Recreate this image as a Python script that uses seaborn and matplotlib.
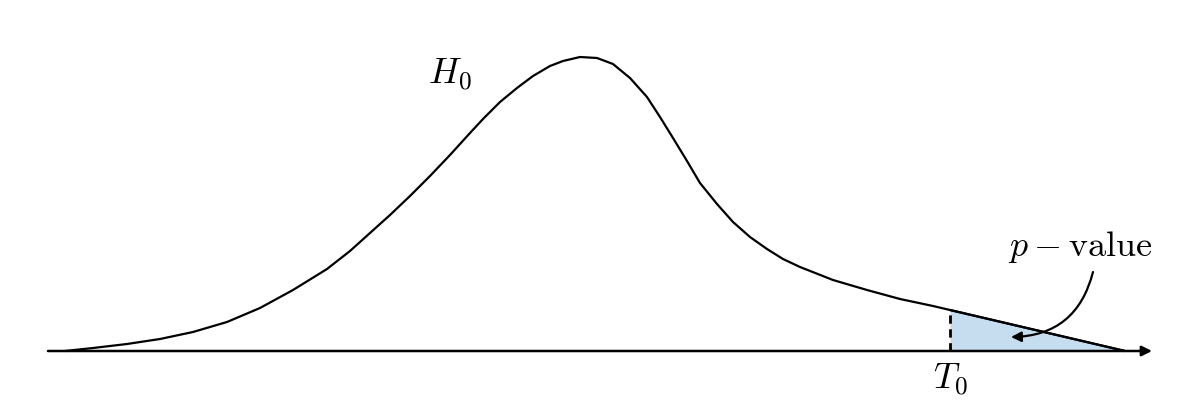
import numpy as np
import matplotlib
matplotlib.use("Agg")
import matplotlib.pyplot as plt
import seaborn as sns

# curve of the null distribution (x position, height above baseline)
curve_x = [65, 93, 127, 160, 193, 227, 260, 293, 327, 350, 370, 390, 410, 430, 450,
           460, 470, 483, 500, 517, 533, 550, 563, 580, 597, 613, 630, 647, 660, 673,
           687, 700, 717, 733, 750, 767, 783, 800, 833, 867, 900, 933, 950, 1125]
curve_h = [0, 3, 7, 12, 19, 29, 43, 61, 82, 100, 118, 136, 155, 175, 196,
           207, 218, 232, 249, 263, 275, 285, 290, 294, 293, 287, 273, 254, 234, 213,
           190, 168, 147, 129, 114, 102, 92, 84, 71, 61, 52, 45, 41, 0]

t0 = 950
axis_start, axis_end = 48, 1152
label_h0 = "$H_0$"
label_t0 = "$T_0$"
label_p = r"$p - \mathrm{value}$"

sns.set_style("white")
plt.rcParams["mathtext.fontset"] = "cm"
plt.rcParams["text.color"] = "black"

fig = plt.figure(figsize=(12, 4), dpi=100)
ax = fig.add_axes([0, 0, 1, 1])

xs = np.array(curve_x)
hs = np.array(curve_h)

sns.lineplot(x=xs, y=hs, ax=ax, color="black", lw=1.6, sort=False, estimator=None)
ax.lines[-1].set_solid_joinstyle("round")

# shaded p-value tail
mask = xs >= t0
ax.fill_between(xs[mask], 0, hs[mask], color="#c6dcef", lw=0)
ax.plot(xs[mask], hs[mask], color="black", lw=1.6)

# dashed line at T0
ax.plot([t0, t0], [0, hs[xs == t0][0]], color="black", lw=2, ls=(0, (3, 2)))

# horizontal axis with arrow
ax.annotate("", xy=(axis_end, 0), xytext=(axis_start, 0),
            arrowprops=dict(arrowstyle="-|>", lw=1.8, color="black", mutation_scale=15,
                            shrinkA=0, shrinkB=0))

ax.text(450, 276, label_h0, fontsize=26, ha="center", va="center", color="black")
ax.text(t0, -29, label_t0, fontsize=26, ha="center", va="center", color="black")
ax.text(1080, 104, label_p, fontsize=26, ha="center", va="center", color="black")

# curved arrow pointing into the tail
ax.annotate("", xy=(1011, 14), xytext=(1093, 79),
            arrowprops=dict(arrowstyle="-|>", lw=1.6, color="black", mutation_scale=15,
                            shrinkA=0, shrinkB=0, connectionstyle="arc3,rad=-0.38"))

ax.set_xlim(0, 1200)
ax.set_ylim(-49, 351)
ax.axis("off")

fig.savefig("out.png", dpi=100)
